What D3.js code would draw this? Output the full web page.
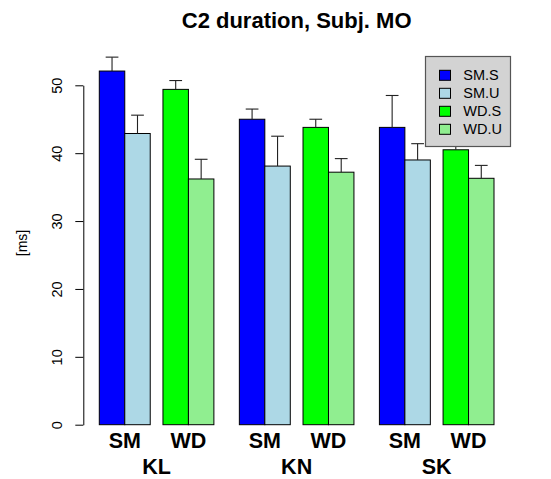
<!DOCTYPE html>
<html>
<head>
<meta charset="utf-8">
<script src="https://cdn.jsdelivr.net/npm/d3@7"></script>
<style>
  html, body { margin: 0; padding: 0; background: #fff; }
  svg { display: block; font-family: "Liberation Sans", Arial, sans-serif; }
</style>
</head>
<body>
<svg id="chart" width="551" height="479"></svg>
<script>
const subjects = ["KL", "KN", "SK"];
const words = ["SM", "WD"];
const conds = ["S", "U"];
const seriesNames = ["SM.S", "SM.U", "WD.S", "WD.U"];
const seriesColors = ["#0000ff", "#add8e6", "#00ff00", "#90ee90"];
// mean values per series, in subject order KL, KN, SK
const valSMS = [52.1, 45.0, 43.8];
const valSMU = [42.9, 38.1, 39.0];
const valWDS = [49.4, 43.8, 40.5];
const valWDU = [36.2, 37.2, 36.3];
// upper error (standard error) per series
const errSMS = [2.05, 1.5, 4.7];
const errSMU = [2.7, 4.4, 2.4];
const errWDS = [1.3, 1.2, 0.9];
const errWDU = [2.9, 2.0, 1.9];
const yTicks = [0, 10, 20, 30, 40, 50];
const titleText = "C2 duration, Subj. MO";
const yLabel = "[ms]";

const values = { "SM.S": valSMS, "SM.U": valSMU, "WD.S": valWDS, "WD.U": valWDU };
const errors = { "SM.S": errSMS, "SM.U": errSMU, "WD.S": errWDS, "WD.U": errWDU };

const rows = [];
subjects.forEach((s, i) => {
  words.forEach(w => {
    conds.forEach(c => {
      const key = w + "." + c;
      rows.push({ subject: s, word: w, cond: c, key: key, value: values[key][i], err: errors[key][i] });
    });
  });
});

const svg = d3.select("#chart");
const xLeft = 99.3, xRight = 494;
const y0 = 424.7, y50 = 85.3;

const xOuter = d3.scaleBand().domain(subjects).range([xLeft, xRight]).paddingInner(1 / 5.5).paddingOuter(0);
const xMid = d3.scaleBand().domain(words).range([0, xOuter.bandwidth()]).paddingInner(0.2).paddingOuter(0);
const xInner = d3.scaleBand().domain(conds).range([0, xMid.bandwidth()]).padding(0);
const y = d3.scaleLinear().domain([0, 50]).range([y0, y50]);
const color = d3.scaleOrdinal().domain(seriesNames).range(seriesColors);

const barX = d => xOuter(d.subject) + xMid(d.word) + xInner(d.cond);
const bw = xInner.bandwidth();

// bars
svg.append("g").selectAll("rect").data(rows).join("rect")
  .attr("x", barX)
  .attr("y", d => y(d.value))
  .attr("width", bw)
  .attr("height", d => y(0) - y(d.value))
  .attr("fill", d => color(d.key))
  .attr("stroke", "#000")
  .attr("stroke-width", 1);

// error bars (upper only)
const eg = svg.append("g").attr("stroke", "#222").attr("stroke-width", 1.1);
eg.selectAll("line.v").data(rows).join("line").attr("class", "v")
  .attr("x1", d => barX(d) + bw / 2).attr("x2", d => barX(d) + bw / 2)
  .attr("y1", d => y(d.value)).attr("y2", d => y(d.value + d.err));
eg.selectAll("line.c").data(rows).join("line").attr("class", "c")
  .attr("x1", d => barX(d) + bw / 4).attr("x2", d => barX(d) + bw * 3 / 4)
  .attr("y1", d => y(d.value + d.err)).attr("y2", d => y(d.value + d.err));

// y axis
const axisX = 83.3;
const ax = svg.append("g").attr("transform", `translate(${axisX},0)`)
  .call(d3.axisLeft(y).tickValues(yTicks).tickSize(8).tickSizeOuter(0).tickFormat(d3.format("d")));
ax.select(".domain").attr("stroke", "#000").attr("stroke-width", 1);
ax.selectAll(".tick line").attr("stroke", "#000").attr("stroke-width", 1);
ax.selectAll(".tick text")
  .attr("transform", "rotate(-90)")
  .attr("x", 0).attr("y", -21.8).attr("dy", 0)
  .attr("text-anchor", "middle")
  .attr("fill", "#000")
  .style("font-size", "14.5px")
  .style("font-family", "Liberation Sans, Arial, sans-serif");

// y label
svg.append("text")
  .attr("transform", "translate(27,243) rotate(-90)")
  .attr("text-anchor", "middle")
  .style("font-size", "14px")
  .text(yLabel);

// word labels
const wordLabels = [];
subjects.forEach(s => words.forEach(w => wordLabels.push({ subject: s, word: w })));
svg.append("g").selectAll("text").data(wordLabels).join("text")
  .attr("x", d => xOuter(d.subject) + xMid(d.word) + xMid.bandwidth() / 2)
  .attr("y", 448.3)
  .attr("text-anchor", "middle")
  .style("font-size", "21.5px").style("font-weight", "bold")
  .text(d => d.word);

// subject labels
svg.append("g").selectAll("text").data(subjects).join("text")
  .attr("x", d => xOuter(d) + xOuter.bandwidth() / 2)
  .attr("y", 474.3)
  .attr("text-anchor", "middle")
  .style("font-size", "21.5px").style("font-weight", "bold")
  .text(d => d);

// title
svg.append("text")
  .attr("x", (xLeft + xRight) / 2)
  .attr("y", 28)
  .attr("text-anchor", "middle")
  .style("font-size", "22px").style("font-weight", "bold")
  .text(titleText);

// legend
const lg = svg.append("g");
lg.append("rect")
  .attr("x", 425.5).attr("y", 56.5).attr("width", 85).attr("height", 90)
  .attr("fill", "#d3d3d3").attr("stroke", "#555").attr("stroke-width", 1.2);
const ly = d3.scalePoint().domain(seriesNames).range([75.3, 129.3]);
lg.selectAll("rect.k").data(seriesNames).join("rect").attr("class", "k")
  .attr("x", 439.5).attr("y", d => ly(d) - 5).attr("width", 11).attr("height", 10)
  .attr("fill", d => color(d)).attr("stroke", "#000").attr("stroke-width", 1);
lg.selectAll("text").data(seriesNames).join("text")
  .attr("x", 463.3).attr("y", d => ly(d) + 5)
  .style("font-size", "14.5px")
  .text(d => d);
</script>
</body>
</html>
